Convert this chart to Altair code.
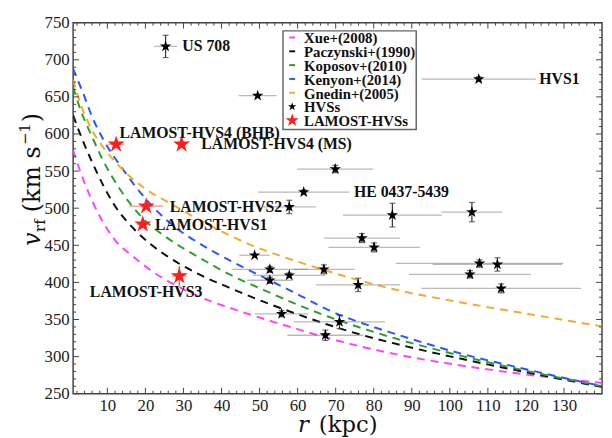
import altair as alt
import pandas as pd

# ---------------- data ----------------
# observed HVSs (black stars)
hvs_r    = [25.3, 49.5, 107.6, 69.9, 61.6, 57.8, 84.9, 105.8, 76.9, 80.1, 48.7, 52.7, 66.9, 57.8, 52.7, 75.9, 55.8, 71.0, 67.3, 107.8, 112.5, 105.3, 113.5]
hvs_v    = [718, 651.6, 674, 552.8, 521.7, 501.7, 490.7, 494.7, 459.7, 447.2, 436.6, 417.6, 417.6, 409.6, 402.9, 396.7, 357.7, 346.7, 328.8, 425.5, 424.2, 410.9, 391.9]
hvs_rerr = [3, 5, 15, 10, 12, 7, 13, 8, 10, 12, 4, 10, 8, 9.5, 6, 11, 7, 12, 10, 22, 17, 16, 21]
hvs_verr = [15, 0, 3, 5, 3, 9, 16, 13, 6, 6, 0, 4, 6, 3, 4, 9, 4, 9, 7, 5, 9, 5, 6]

# LAMOST HVSs (red stars)
lam_r    = [12.3, 29.5, 20.2, 19.3, 28.9]
lam_v    = [586, 586, 502.7, 478.3, 408.6]
lam_rerr = [2, 1, 4.5, 1.5, 2]
lam_verr = [3, 3, 3, 5, 13]

# text annotations
ann_text = ["US 708", "HVS1", "HE 0437-5439", "LAMOST-HVS4 (BHB)", "LAMOST-HVS4 (MS)",
            "LAMOST-HVS2", "LAMOST-HVS1", "LAMOST-HVS3"]
ann_r    = [29.7, 123.5, 74.8, 13.2, 34.7, 26.4, 22.5, 5.4]
ann_v    = [718, 674, 521.3, 601, 586, 501.7, 477.4, 386.6]

# escape velocity curves
xue_r = [1, 3, 6, 9, 12, 17, 22, 28, 34, 42, 51, 60, 68, 86, 103, 120, 141]
xue_v = [578, 548, 510, 480, 457, 434, 414, 396, 381, 366, 351, 337, 325, 303, 288, 276, 264]

pac_r = [1, 3, 6, 9, 12, 17, 22, 28, 34, 42, 51, 60, 68, 77, 86, 103, 120, 141]
pac_v = [625, 598, 562, 530, 503, 472, 449, 428, 411, 393, 374, 357, 343, 329, 317, 297, 279, 258]

kop_r = [1, 3, 6, 9, 13, 19, 26, 34, 42, 51, 60, 68, 86, 103, 120, 141]
kop_v = [663, 632, 596, 563, 528, 488, 459, 434, 411, 390, 370, 354, 324, 301, 281, 259]

ken_r = [1, 4, 6, 9, 14, 20, 26, 35, 42, 51, 60, 68, 77, 86, 103, 120, 141]
ken_v = [688, 650, 623, 592, 553, 513, 482, 450, 430, 407, 384, 363, 345, 330, 304, 283, 259]

gne_r = [1, 3, 6, 10, 14, 20, 26, 35, 47, 60, 70, 85, 103, 120, 141]
gne_v = [673, 640, 605, 575, 552, 526, 508, 482, 452, 428, 412, 391, 373, 358, 340]

models = ["Xue+(2008)", "Paczynski+(1990)", "Koposov+(2010)", "Kenyon+(2014)", "Gnedin+(2005)"]
model_colors = ["#ff44ff", "#111111", "#2ca02c", "#2a55ff", "#f2ab2e"]

x_major = [10, 20, 30, 40, 50, 60, 70, 80, 90, 100, 110, 120, 130]
x_minor = [v for v in range(2, 140, 2) if v % 10 != 0]
y_major = [250, 300, 350, 400, 450, 500, 550, 600, 650, 700, 750]
y_minor = [v for v in range(260, 750, 10) if v % 50 != 0]

# ---------------- build tables ----------------
curve_rows = []
for name, rs, vs in zip(models, [xue_r, pac_r, kop_r, ken_r, gne_r], [xue_v, pac_v, kop_v, ken_v, gne_v]):
    for i, (a, b) in enumerate(zip(rs, vs)):
        curve_rows.append({"model": name, "r": a, "v": b, "o": i})
curves = pd.DataFrame(curve_rows)

hvs = pd.DataFrame({"r": hvs_r, "v": hvs_v, "re": hvs_rerr, "ve": hvs_verr})
hvs["r_lo"] = hvs.r - hvs.re
hvs["r_hi"] = hvs.r + hvs.re
hvs["v_lo"] = hvs.v - hvs.ve
hvs["v_hi"] = hvs.v + hvs.ve
hvs_ve = hvs[hvs.ve > 0]

lam = pd.DataFrame({"r": lam_r, "v": lam_v, "re": lam_rerr, "ve": lam_verr})
lam["r_lo"] = lam.r - lam.re
lam["r_hi"] = lam.r + lam.re
lam["v_lo"] = lam.v - lam.ve
lam["v_hi"] = lam.v + lam.ve

ann = pd.DataFrame({"t": ann_text, "r": ann_r, "v": ann_v})

W, H = 536, 376
SERIF = "Liberation Serif"
TSERIF = "DejaVu Serif"
STAR = ("M0,-1L0.2245,-0.309L0.951,-0.309L0.363,0.118L0.588,0.809L0,0.382"
        "L-0.588,0.809L-0.363,0.118L-0.951,-0.309L-0.2245,-0.309Z")

xscale = alt.Scale(domain=[1, 140], nice=False, zero=False)
yscale = alt.Scale(domain=[250, 750], nice=False, zero=False)
xaxis = alt.Axis(values=x_major, ticks=False, domain=False, grid=False, title=None,
                 labelFont=SERIF, labelFontSize=17, labelColor="#222", labelPadding=4)
yaxis = alt.Axis(values=y_major, ticks=False, domain=False, grid=False, title=None,
                 labelFont=SERIF, labelFontSize=17, labelColor="#222", labelPadding=4)


def X(f):
    return alt.X(f, type="quantitative", scale=xscale, axis=xaxis)


def Y(f):
    return alt.Y(f, type="quantitative", scale=yscale, axis=yaxis)


layers = []

# curves
layers.append(
    alt.Chart(curves).mark_line(strokeDash=[8, 6], strokeWidth=2, clip=True, interpolate="monotone").encode(
        x=X("r"), y=Y("v"), order="o:Q",
        color=alt.Color("model:N", scale=alt.Scale(domain=models, range=model_colors), legend=None),
        strokeDash=alt.value([8, 6]),
        detail="model:N",
    )
)

# HVS error bars
layers.append(
    alt.Chart(hvs).mark_rule(color="#808080", opacity=0.55, strokeWidth=1.3).encode(
        x=X("r_lo"), x2="r_hi", y=Y("v"))
)
layers.append(
    alt.Chart(hvs_ve).mark_rule(color="#333333", strokeWidth=1.2).encode(
        x=X("r"), y=Y("v_lo"), y2="v_hi")
)
layers.append(
    alt.Chart(hvs_ve).mark_tick(orient="horizontal", color="#333333", size=6, thickness=1.2).encode(
        x=X("r"), y=Y("v_lo"))
)
layers.append(
    alt.Chart(hvs_ve).mark_tick(orient="horizontal", color="#333333", size=6, thickness=1.2).encode(
        x=X("r"), y=Y("v_hi"))
)
layers.append(
    alt.Chart(hvs).mark_point(shape=STAR, filled=True, color="black", opacity=1, size=150).encode(
        x=X("r"), y=Y("v"))
)

# LAMOST error bars and stars
layers.append(
    alt.Chart(lam).mark_rule(color="#ff7070", opacity=0.8, strokeWidth=1.3).encode(
        x=X("r_lo"), x2="r_hi", y=Y("v"))
)
layers.append(
    alt.Chart(lam).mark_rule(color="#ff5050", strokeWidth=1.3).encode(
        x=X("r"), y=Y("v_lo"), y2="v_hi")
)
layers.append(
    alt.Chart(lam).mark_point(shape=STAR, filled=True, color="#ff1e1e", opacity=1, size=330).encode(
        x=X("r"), y=Y("v"))
)

# annotations
layers.append(
    alt.Chart(ann).mark_text(align="left", baseline="middle", font=SERIF, fontWeight="bold",
                             fontSize=16, color="#111").encode(x=X("r"), y=Y("v"), text="t:N")
)

# inward ticks on all four sides
tx_maj = pd.DataFrame({"t": x_major})
tx_min = pd.DataFrame({"t": x_minor})
ty_maj = pd.DataFrame({"t": y_major})
ty_min = pd.DataFrame({"t": y_minor})
TC = "#444444"
for df, ln in [(tx_maj, 6), (tx_min, 3)]:
    layers.append(alt.Chart(df).mark_rule(color=TC, strokeWidth=1).encode(
        x=X("t"), y=alt.value(H), y2=alt.value(H - ln)))
    layers.append(alt.Chart(df).mark_rule(color=TC, strokeWidth=1).encode(
        x=X("t"), y=alt.value(0), y2=alt.value(ln)))
for df, ln in [(ty_maj, 6), (ty_min, 3)]:
    layers.append(alt.Chart(df).mark_rule(color=TC, strokeWidth=1).encode(
        y=Y("t"), x=alt.value(0), x2=alt.value(ln)))
    layers.append(alt.Chart(df).mark_rule(color=TC, strokeWidth=1).encode(
        y=Y("t"), x=alt.value(W), x2=alt.value(W - ln)))

# manual legend
one = pd.DataFrame({"a": [0]})
layers.append(alt.Chart(one).mark_rect(fill="white", stroke="#666666", strokeWidth=1.5).encode(
    x=alt.value(212.7), x2=alt.value(347.7), y=alt.value(8.3), y2=alt.value(108.3)))
leg_labels = models + ["HVSs", "LAMOST-HVSs"]
for i, lab in enumerate(leg_labels):
    yy = 15 + 14 * i
    if i < 5:
        layers.append(alt.Chart(one).mark_rule(color=model_colors[i], strokeWidth=2).encode(
            x=alt.value(219), x2=alt.value(225), y=alt.value(yy)))
    elif i == 5:
        layers.append(alt.Chart(one).mark_point(shape=STAR, filled=True, color="black", opacity=1, size=80).encode(
            x=alt.value(222), y=alt.value(yy)))
    else:
        layers.append(alt.Chart(one).mark_point(shape=STAR, filled=True, color="#ff1e1e", opacity=1, size=200).encode(
            x=alt.value(222), y=alt.value(yy)))
    layers.append(alt.Chart(one).mark_text(text=lab, align="left", baseline="middle", font=SERIF,
                                           fontWeight="bold", fontSize=15, color="#111").encode(
        x=alt.value(234), y=alt.value(yy + 1)))

# axis titles built from text pieces
TFS = 23
layers.append(alt.Chart(one).mark_text(text="r", align="left", baseline="alphabetic", font=TSERIF,
                                       fontStyle="italic", fontSize=TFS, color="#111").encode(
    x=alt.value(228), y=alt.value(415)))
layers.append(alt.Chart(one).mark_text(text="(kpc)", align="left", baseline="alphabetic", font=TSERIF,
                                       fontSize=TFS, color="#111").encode(
    x=alt.value(249), y=alt.value(415)))
ypieces = [("v", "italic", 24, -34, 226), ("rf", "normal", 15, -29, 212),
           ("(km s", "normal", 24, -34, 192), ("\u22121", "normal", 15, -44, 124),
           (")", "normal", 24, -34, 101)]
for txt, sty, fs, xx, yy in ypieces:
    layers.append(alt.Chart(one).mark_text(text=txt, align="left", baseline="alphabetic", font=TSERIF,
                                           fontStyle=sty, fontSize=fs, angle=270, color="#111").encode(
        x=alt.value(xx), y=alt.value(yy)))

chart = alt.layer(*layers).properties(
    width=W, height=H,
    autosize=alt.AutoSizeParams(type="none"),
    padding={"left": 66, "top": 12, "right": 2, "bottom": 42},
).configure_view(stroke="#444444", strokeWidth=1.5)

chart.save("out.html", embed_options={"renderer": "svg", "actions": False})
